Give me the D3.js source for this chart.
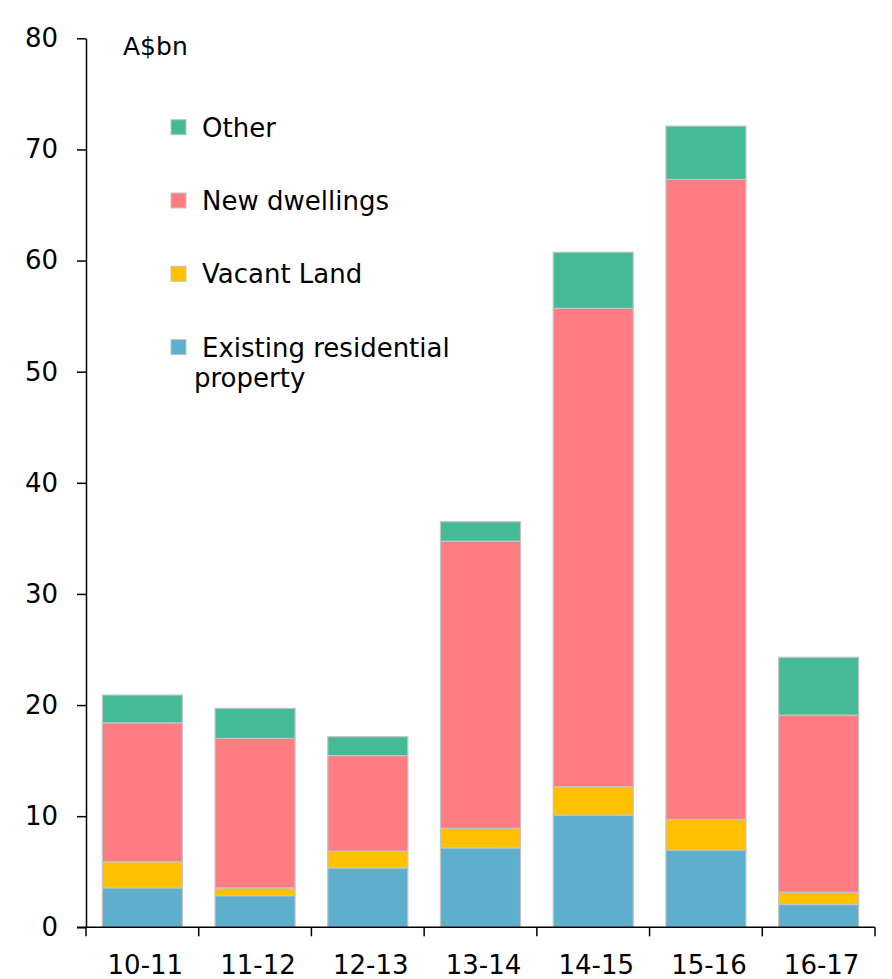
<!DOCTYPE html>
<html>
<head>
<meta charset="utf-8">
<script src="https://cdn.jsdelivr.net/npm/d3@7/dist/d3.min.js"></script>
<style>
  html, body { margin: 0; padding: 0; background: #fff; }
  svg { display: block; }
  text { font-family: "DejaVu Sans", sans-serif; fill: #000; }
</style>
</head>
<body>
<svg id="chart" width="892" height="979"></svg>
<script>
// Financial years
const categories = ["10-11", "11-12", "12-13", "13-14", "14-15", "15-16", "16-17"];

// Approved foreign investment in real estate, A$bn, by type
const existingResidential = [3.55, 2.85, 5.35, 7.15, 10.1, 6.95, 2.05];
const vacantLand          = [2.35, 0.7, 1.5, 1.75, 2.55, 2.75, 1.1];
const newDwellings        = [12.5, 13.45, 8.6, 25.85, 43.05, 57.6, 15.95];
const other               = [2.5, 2.7, 1.7, 1.75, 5.05, 4.8, 5.2];

const yTicks = [0, 10, 20, 30, 40, 50, 60, 70, 80];
const unitLabel = "A$bn";

const seriesKeys = ["existing", "vacant", "newDw", "other"];
const seriesNames = {
  other: "Other",
  newDw: "New dwellings",
  vacant: "Vacant Land",
  existing: "Existing residential property"
};
const colors = {
  existing: "#5eaecd",
  vacant: "#ffc000",
  newDw: "#ff7c82",
  other: "#44ba97"
};

const rows = categories.map((c, i) => ({
  cat: c,
  existing: existingResidential[i],
  vacant: vacantLand[i],
  newDw: newDwellings[i],
  other: other[i]
}));

const svg = d3.select("#chart");
const plotLeft = 86, plotRight = 875, plotTop = 38.3, plotBottom = 927.3;

const x = d3.scaleBand()
  .domain(categories)
  .range([plotLeft, plotRight])
  .paddingInner(0.29)
  .paddingOuter(0.145);

const y = d3.scaleLinear().domain([0, 80]).range([plotBottom, plotTop]);

const stacked = d3.stack().keys(seriesKeys)(rows);

// Stacked bars
svg.append("g")
  .selectAll("g")
  .data(stacked)
  .join("g")
  .attr("fill", d => colors[d.key])
  .selectAll("rect")
  .data(d => d)
  .join("rect")
  .attr("x", d => x(d.data.cat))
  .attr("width", x.bandwidth())
  .attr("y", d => y(d[1]))
  .attr("height", d => y(d[0]) - y(d[1]))
  .attr("stroke", "#c4c4c4")
  .attr("stroke-width", 1.2);

// Y axis
const yAxis = svg.append("g")
  .attr("transform", `translate(${plotLeft},0)`)
  .call(d3.axisLeft(y).tickValues(yTicks).tickSize(9).tickSizeOuter(0).tickPadding(19));
yAxis.select(".domain").attr("stroke", "#000").attr("stroke-width", 1.5);
yAxis.selectAll(".tick line").attr("stroke", "#000").attr("stroke-width", 1.5);
yAxis.selectAll(".tick text")
  .attr("font-size", 26)
  .attr("font-family", "DejaVu Sans, sans-serif")
  .attr("fill", "#000");

// X axis: category labels centred in bands, ticks at band boundaries
const step = x.step();
const boundaries = categories.map(c => x(c) - step * x.paddingInner() / 2)
  .concat([x(categories[categories.length - 1]) + x.bandwidth() + step * x.paddingInner() / 2]);

const xAxis = svg.append("g").attr("transform", `translate(0,${plotBottom})`);
xAxis.append("line")
  .attr("x1", plotLeft - 9).attr("x2", plotRight)
  .attr("stroke", "#000").attr("stroke-width", 1.5);
xAxis.selectAll("line.bt")
  .data(boundaries)
  .join("line")
  .attr("class", "bt")
  .attr("x1", d => d).attr("x2", d => d)
  .attr("y1", 0).attr("y2", 9)
  .attr("stroke", "#000").attr("stroke-width", 1.5);
xAxis.selectAll("text.cl")
  .data(categories)
  .join("text")
  .attr("class", "cl")
  .attr("x", d => x(d) + x.bandwidth() / 2 + 3)
  .attr("y", 47)
  .attr("text-anchor", "middle")
  .attr("font-size", 26)
  .text(d => d);

// Unit label
svg.append("text")
  .attr("x", 123).attr("y", 55)
  .attr("font-size", 25)
  .text(unitLabel);

// Legend
const legendOrder = ["other", "newDw", "vacant", "existing"];
const lg = svg.append("g");
legendOrder.forEach((k, i) => {
  const by = 136.7 + i * 73.3;
  lg.append("rect")
    .attr("x", 171).attr("y", by - 17)
    .attr("width", 15).attr("height", 15)
    .attr("fill", colors[k])
    .attr("stroke", "#c4c4c4").attr("stroke-width", 1);
  if (k === "existing") {
    lg.append("text").attr("x", 202).attr("y", by).attr("font-size", 26).text("Existing residential");
    lg.append("text").attr("x", 194).attr("y", by + 30.5).attr("font-size", 26).text("property");
  } else {
    lg.append("text").attr("x", 202).attr("y", by).attr("font-size", 26).text(seriesNames[k]);
  }
});
</script>
</body>
</html>
